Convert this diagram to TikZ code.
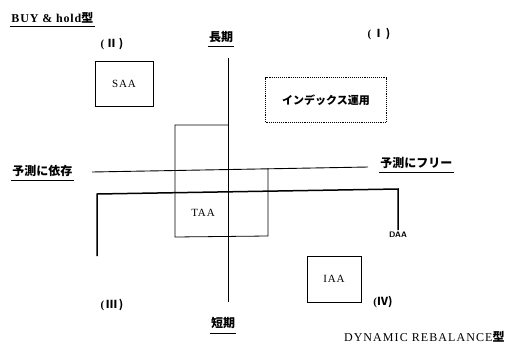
\documentclass[tikz,border=0pt]{standalone}
\usepackage{fontspec}
\setmainfont{Liberation Serif}
\newfontfamily\cjk{Noto Sans CJK JP}
\tikzset{
  jp/.style={inner sep=1pt, font=\fontsize{12}{13}\selectfont\cjk\bfseries},
  boxlbl/.style={font=\fontsize{11}{12}\selectfont\addfontfeatures{LetterSpace=8}},
  quad/.style={inner sep=1pt, font=\fontsize{11}{12}\selectfont\bfseries},
  ul/.style={line width=1pt},
  frame/.style={draw, line width=0.8pt}
}
\begin{document}
\begin{tikzpicture}[x=1pt,y=-1pt, line width=0.9pt]
\useasboundingbox (0,0) rectangle (512,349);
% titles
\node[inner sep=1pt, anchor=west, font=\fontsize{12}{13}\selectfont\bfseries\addfontfeatures{LetterSpace=7}] (buy) at (10,18) {BUY \& hold\cjk{型}};
\draw[ul] ([yshift=-2pt]buy.south west) -- ([yshift=-2pt]buy.south east);
\node[inner sep=1pt, anchor=east, font=\fontsize{12}{13}\selectfont\addfontfeatures{LetterSpace=9}] (dyn) at (506,337) {DYNAMIC REBALANCE\cjk{\bfseries 型}};
% quadrant labels
\node[quad] (q2) at (112,44) {(\,\cjk{Ⅱ}\,)};
\node[quad] (q1) at (379,34) {(\,\cjk{Ⅰ}\,)};
\node[quad] (q3) at (112,305) {(\,\cjk{Ⅲ}\,)};
\node[quad] (q4) at (383,302) {(\cjk{Ⅳ})};
% axis labels
\node[jp] (long) at (221,37) {長期};
\draw[ul] ([yshift=-2pt]long.south west) -- ([yshift=-2pt]long.south east);
\node[jp] (short) at (223,323) {短期};
\draw[ul] ([yshift=-3pt]short.south west) -- ([yshift=-3pt]short.south east);
\node[jp, anchor=west] (dep) at (11,171) {予測に依存};
\draw[ul] ([yshift=-2pt]dep.south west) -- ([yshift=-2pt]dep.south east);
\node[jp, anchor=west] (free) at (379,163) {予測にフリー};
\draw[ul] ([yshift=-2pt]free.south west) -- ([yshift=-2pt]free.south east);
% axes
\coordinate (vt) at (228,58);
\coordinate (vb) at (228,302);
\draw (vt) -- (vb);
\coordinate (hl) at (92,172);
\coordinate (hr) at (368,167);
\draw (hl) -- (hr);
% boxes
\node[frame, minimum width=58pt, minimum height=45pt, boxlbl] (saa) at (124,84) {SAA};
\node[draw, densely dotted, line width=0.9pt, minimum width=121pt, minimum height=45pt, jp, font=\fontsize{11}{12}\selectfont\cjk\bfseries] (idx) at (326,100) {インデックス運用};
\node[frame, minimum width=54pt, minimum height=46pt, boxlbl] (iaa) at (334,279) {IAA};
% TAA cross
\coordinate (t1) at (175,125);
\coordinate (t2) at (228,125);
\coordinate (t3) at (268,168);
\coordinate (t4) at (268,236);
\coordinate (t5) at (175,237);
\draw[line width=0.8pt] (t2) -- (t1) -- (t5) -- (t4) -- (t3);
\node[boxlbl] (taa) at (203,213) {TAA};
% DAA bracket
\coordinate (d1) at (97,256);
\coordinate (d2) at (97,194);
\coordinate (d3) at (398,189);
\coordinate (d4) at (398,230);
\draw[line width=1.5pt] (d1) -- (d2) -- (d3) -- (d4);
\node[inner sep=1pt, font=\fontsize{8}{9}\selectfont\sffamily\bfseries, anchor=north] (daa) at (398,230) {DAA};
\end{tikzpicture}
\end{document}
